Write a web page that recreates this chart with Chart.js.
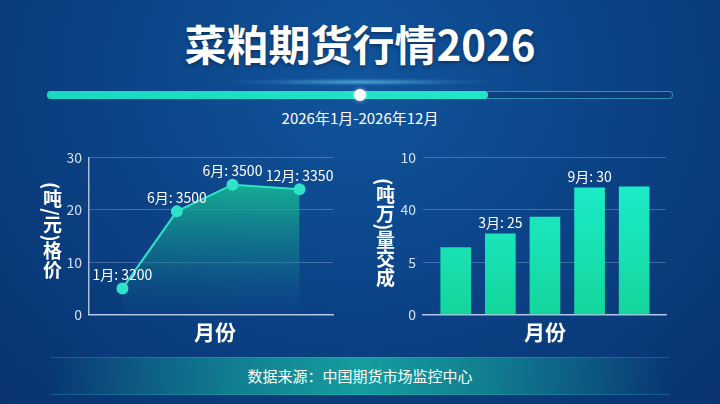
<!DOCTYPE html>
<html><head><meta charset="utf-8">
<script src="https://cdn.jsdelivr.net/npm/chart.js@4.4.1/dist/chart.umd.min.js"></script>
<style>
html,body{margin:0;padding:0;}
body{width:720px;height:404px;overflow:hidden;position:relative;font-family:"Noto Sans CJK SC","Noto Sans",sans-serif;
background:radial-gradient(ellipse at 50% 20%, #11559c 0%, #0c4488 45%, #08336f 100%);}
.abs{position:absolute;}
canvas{display:block;}
#title{left:0;width:720px;top:13px;text-align:center;color:#fff;font-weight:700;font-size:42px;line-height:60px;text-shadow:0 2px 4px rgba(0,0,0,0.35);}
#glow{left:230px;top:78px;width:260px;height:8px;border-radius:50%;background:radial-gradient(ellipse at center, rgba(120,230,255,0.55) 0%, rgba(80,180,240,0.15) 50%, rgba(0,0,0,0) 75%);}
#track{left:47px;top:91px;width:624px;height:6px;border:1px solid rgba(80,200,220,0.6);border-radius:5px;background:rgba(10,50,100,0.4);}
#fill{left:47px;top:91px;width:441px;height:8px;border-radius:5px;background:linear-gradient(90deg,#19d9c0,#22e6c6);}
#knob{left:354px;top:89px;width:12px;height:12px;border-radius:50%;background:#fff;box-shadow:0 0 4px rgba(255,255,255,0.6);}
#range{left:0;width:720px;top:107px;text-align:center;color:#fff;font-size:15px;line-height:22px;}
.ytitle{color:#fff;font-weight:700;font-size:19px;writing-mode:vertical-rl;line-height:22px;}
.xtitle{color:#fff;font-weight:700;font-size:21px;line-height:26px;text-align:center;width:100px;}
#band{left:50px;top:357px;width:620px;height:36px;background:linear-gradient(90deg, rgba(20,140,150,0) 0%, rgba(20,150,150,0.75) 30%, rgba(22,165,160,0.92) 50%, rgba(20,150,150,0.75) 70%, rgba(20,140,150,0) 100%);border-top:1px solid rgba(60,200,200,0.25);border-bottom:1px solid rgba(60,200,200,0.25);}
#source{left:0;width:720px;top:366px;text-align:center;color:#fff;font-size:15px;line-height:20px;}
</style></head>
<body>
<div id="title" class="abs">菜粕期货行情2026</div>
<div id="glow" class="abs"></div>
<div id="track" class="abs"></div>
<div id="fill" class="abs"></div>
<div id="knob" class="abs"></div>
<div id="range" class="abs">2026年1月-2026年12月</div>
<div id="band" class="abs"></div>
<div id="source" class="abs">数据来源：中国期货市场监控中心</div>

<div class="abs" style="left:40px;top:142px;width:300px;height:188px;"><canvas id="c1" width="300" height="188"></canvas></div>
<div class="abs" style="left:370px;top:142px;width:300px;height:188px;"><canvas id="c2" width="300" height="188"></canvas></div>

<div class="abs ytitle" style="left:41px;top:182px;">(吨/元)格价</div>
<div class="abs ytitle" style="left:374px;top:178px;">(吨万)量交成</div>
<div class="abs xtitle" style="left:165px;top:318px;">月份</div>
<div class="abs xtitle" style="left:495px;top:318px;">月份</div>

<script>
// ---- data ----
const lineCategories = ['1月', '6月', '6月', '12月'];
const linePositions = [13.7, 36.0, 58.8, 86.3];
const lineValues = [5.0, 19.7, 24.8, 23.9];
const lineLabels = ['1月: 3200', '6月: 3500', '6月: 3500', '12月: 3350'];
const leftTicks = [0, 10, 20, 30];

const barPositions = [0, 1, 2, 3, 4];
const barValues = [6.4, 7.7, 9.3, 12.1, 12.2];
const barLabels = ['', '3月: 25', '', '9月: 30', ''];
const rightTickValues = [0, 5, 10, 15];
const rightTickLabels = ['0', '5', '40', '10'];

const gridColor = 'rgba(200,220,255,0.28)';
const borderColor = 'rgba(220,235,255,0.75)';
const tickColor = '#d3e0f2';
const fontFam = '"Noto Sans CJK SC","Noto Sans",sans-serif';

const labelPlugin = {
  id: 'pointLabels',
  afterDatasetsDraw(chart, args, opts) {
    const ctx = chart.ctx;
    const meta = chart.getDatasetMeta(0);
    ctx.save();
    ctx.fillStyle = '#ffffff';
    ctx.font = '14px ' + fontFam;
    ctx.textAlign = 'center';
    ctx.textBaseline = 'bottom';
    meta.data.forEach((el, i) => {
      const t = opts.labels[i];
      if (!t) return;
      ctx.fillText(t, el.x + (opts.dx || 0), el.y - opts.offset);
    });
    ctx.restore();
  }
};

// ---- left line chart ----
new Chart(document.getElementById('c1'), {
  type: 'line',
  data: {
    datasets: [{
      data: linePositions.map((x, i) => ({x: x, y: lineValues[i]})),
      borderColor: '#2fe3c8',
      borderWidth: 2,
      pointRadius: 5,
      pointBackgroundColor: '#2fe3c8',
      pointBorderColor: '#2fe3c8',
      tension: 0,
      fill: 'origin',
      backgroundColor: (c) => {
        const a = c.chart.chartArea;
        if (!a) return 'rgba(30,200,160,0.5)';
        const g = c.chart.ctx.createLinearGradient(0, a.top + 25, 0, a.bottom);
        g.addColorStop(0, 'rgba(24,195,150,0.85)');
        g.addColorStop(0.6, 'rgba(20,135,140,0.45)');
        g.addColorStop(1, 'rgba(14,80,140,0.1)');
        return g;
      }
    }]
  },
  options: {
    responsive: false,
    animation: false,
    layout: {padding: {top: 10, right: 7, left: 0, bottom: 0}},
    plugins: {legend: {display: false}, tooltip: {enabled: false},
      pointLabels: {labels: lineLabels, offset: 7}},
    scales: {
      x: {type: 'linear', min: 0, max: 100,
        ticks: {display: false}, grid: {display: false, drawTicks: false},
        border: {display: true, color: borderColor, width: 1.5},
        afterFit: (s) => { s.height = 4; }},
      y: {min: 0, max: 30,
        afterBuildTicks: (s) => { s.ticks = leftTicks.map(v => ({value: v})); },
        ticks: {color: tickColor, font: {size: 14, family: fontFam}, padding: 7},
        grid: {color: gridColor, drawTicks: false},
        border: {display: true, color: borderColor, width: 1.5},
        afterFit: (s) => { s.width = 49; }}
    }
  },
  plugins: [labelPlugin]
});

// ---- right bar chart ----
new Chart(document.getElementById('c2'), {
  type: 'bar',
  data: {
    datasets: [{
      data: barPositions.map((x, i) => ({x: x, y: barValues[i]})),
      barThickness: 30,
      backgroundColor: (c) => {
        const a = c.chart.chartArea;
        if (!a) return '#1de5c4';
        const g = c.chart.ctx.createLinearGradient(0, a.top, 0, a.bottom);
        g.addColorStop(0, '#1ef0d2');
        g.addColorStop(1, '#14d69c');
        return g;
      },
      borderWidth: 0
    }]
  },
  options: {
    responsive: false,
    animation: false,
    layout: {padding: {top: 10, right: 4, left: 0, bottom: 0}},
    plugins: {legend: {display: false}, tooltip: {enabled: false},
      pointLabels: {labels: barLabels, offset: 4}},
    scales: {
      x: {type: 'linear', min: -0.734, max: 4.714, offset: false,
        ticks: {display: false}, grid: {display: false, drawTicks: false},
        border: {display: true, color: borderColor, width: 1.5},
        afterFit: (s) => { s.height = 4; }},
      y: {min: 0, max: 15,
        afterBuildTicks: (s) => { s.ticks = rightTickValues.map(v => ({value: v})); },
        ticks: {color: tickColor, font: {size: 14, family: fontFam}, padding: 7,
          callback: (v, i) => rightTickLabels[i]},
        grid: {color: gridColor, drawTicks: false},
        border: {display: false},
        afterFit: (s) => { s.width = 53; }}
    }
  },
  plugins: [labelPlugin]
});
</script>
</body></html>
